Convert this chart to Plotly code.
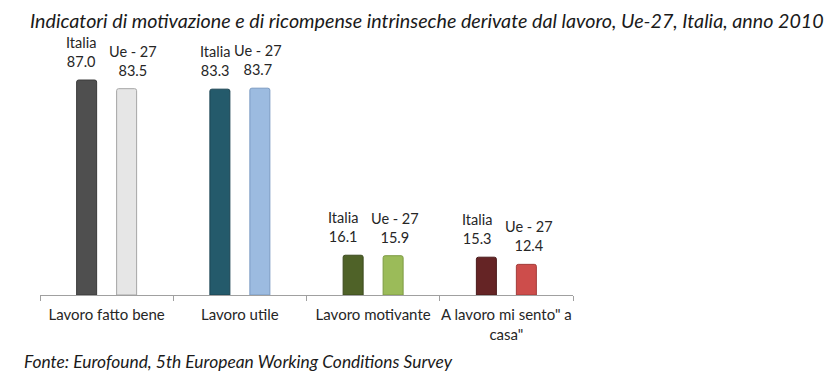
import plotly.graph_objects as go

categories = ["Lavoro fatto bene", "Lavoro utile", "Lavoro motivante", "A lavoro mi sento\" a<br>casa\""]
italia = [87.0, 83.3, 16.1, 15.3]
ue27 = [83.5, 83.7, 15.9, 12.4]
series_names = ["Italia", "Ue - 27"]
italia_colors = ["#4f4f4f", "#245a6b", "#4f6228", "#652425"]
italia_lines = ["#3a3a3a", "#1b4452", "#3b4a1d", "#4a1a1b"]
ue_colors = ["#e6e6e6", "#9cbbe0", "#9bbb59", "#cd4d4b"]
ue_lines = ["#a6a6a6", "#7a9ac2", "#7d9a42", "#a33c3a"]
# label nudges in pixels (style only)
italia_label_dx = [-6, -5, -10, -9]
ue_label_dx = [6, -2, 2, 3]

title = "Indicatori di motivazione e di ricompense intrinseche derivate dal lavoro, Ue-27, Italia, anno 2010"
source = "Fonte: Eurofound, 5th European Working Conditions Survey"

FONT = "Lato"
W = 0.15
L, R, T, B = 40, 262, 40, 92
PW, PH = 835 - L - R, 387 - T - B

fig = go.Figure()
fig.add_trace(go.Bar(x=categories, y=italia, width=W, offset=-0.225,
                     marker=dict(color=italia_colors, line=dict(color=italia_lines, width=1), cornerradius=2),
                     name=series_names[0], hoverinfo="y"))
fig.add_trace(go.Bar(x=categories, y=ue27, width=W, offset=0.075,
                     marker=dict(color=ue_colors, line=dict(color=ue_lines, width=1), cornerradius=2),
                     name=series_names[1], hoverinfo="y"))

annotations = []
for i, (a, b) in enumerate(zip(italia, ue27)):
    annotations.append(dict(x=i - 0.15, y=a, xref="x", yref="y", text=f"{series_names[0]}<br>{a:.1f}",
                            showarrow=False, yanchor="bottom", yshift=8, xshift=italia_label_dx[i],
                            font=dict(family=FONT, size=14.5, color="#262626")))
    annotations.append(dict(x=i + 0.15, y=b, xref="x", yref="y", text=f"{series_names[1]}<br>{b:.1f}",
                            showarrow=False, yanchor="bottom", yshift=8, xshift=ue_label_dx[i],
                            font=dict(family=FONT, size=14.5, color="#262626")))

annotations.append(dict(xref="paper", yref="paper", x=(28 - L) / PW, y=1 + (T - 20) / PH,
                        xanchor="left", yanchor="middle", text=f"<i>{title}</i>", showarrow=False,
                        font=dict(family=FONT, size=19.7, color="#1a1a1a")))
annotations.append(dict(xref="paper", yref="paper", x=(22 - L) / PW, y=-(361 - (387 - B)) / PH,
                        xanchor="left", yanchor="middle", text=f"<i>{source}</i>", showarrow=False,
                        font=dict(family=FONT, size=17.4, color="#1a1a1a")))

fig.update_layout(
    width=835, height=387,
    margin=dict(l=L, r=R, t=T, b=B),
    paper_bgcolor="white", plot_bgcolor="white",
    showlegend=False,
    barmode="overlay",
    font=dict(family=FONT, color="#262626"),
    xaxis=dict(type="category", showgrid=False, showline=True, linecolor="#a0a0a0", linewidth=1,
               ticks="outside", tickson="boundaries", ticklen=5, tickcolor="#a0a0a0",
               tickangle=0, ticklabelstandoff=6,
               tickfont=dict(family=FONT, size=15, color="#262626"), range=[-0.5, 3.5],
               automargin=False),
    yaxis=dict(range=[0, 103.2], visible=False, showgrid=False, zeroline=False, automargin=False),
    annotations=annotations,
)

fig.write_html("out.html", config={"displayModeBar": False},
               post_script="document.body.style.margin='0';")
